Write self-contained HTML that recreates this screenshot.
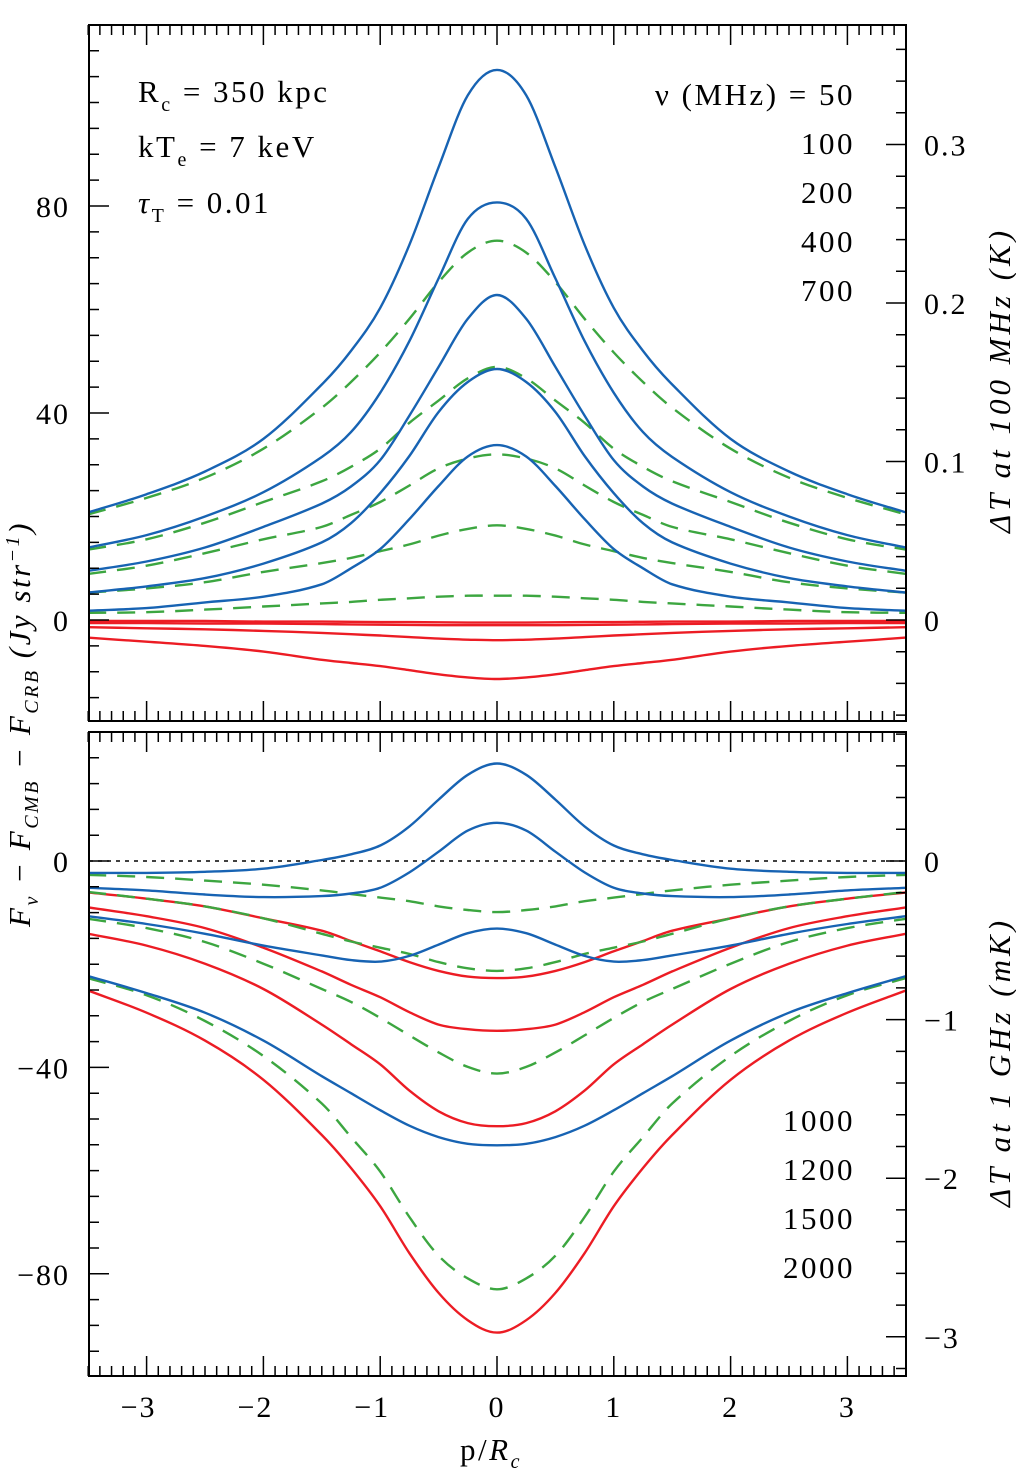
<!DOCTYPE html>
<html><head><meta charset="utf-8">
<style>
html,body{margin:0;padding:0;background:#fff;}
svg{display:block;font-family:"Liberation Serif","DejaVu Serif",serif;}
</style></head>
<body>
<svg id="chart" width="1016" height="1476" viewBox="0 0 1016 1476" xmlns="http://www.w3.org/2000/svg"></svg>
<script>
// ---- data (half profiles at p/Rc = -3.5 ... 0, mirrored) ----
const halfX = [-3.5,-3,-2.5,-2,-1.5,-1.25,-1,-0.75,-0.5,-0.25,0];
// top panel (50-700 MHz)
const topBlue = [
 [20.8,24.3,28.7,35.0,45.5,52.0,60.3,72.5,87.5,101.4,106.3],
 [14.0,16.4,20.0,24.7,31.5,36.3,43.9,53.9,66.0,77.5,80.7],
 [9.5,11.3,14.0,18.0,22.5,25.8,30.9,39.5,48.9,58.2,62.8],
 [5.3,6.5,8.1,10.9,15.0,18.7,24.5,31.7,40.2,46.0,48.5],
 [1.8,2.3,3.4,4.5,6.9,10.0,13.7,19.5,25.9,31.6,33.8]
];
const topGreen = [
 [20.4,23.6,27.5,33.1,41.0,46.0,51.7,58.2,65.3,71.0,73.3],
 [13.6,15.6,18.8,22.8,26.8,29.6,33.1,38.1,42.4,46.7,48.9],
 [8.9,10.5,12.9,15.6,18.0,20.3,22.8,26.0,29.3,31.2,32.0],
 [5.3,6.1,7.3,9.3,11.0,12.0,13.3,14.6,16.3,17.6,18.3],
 [1.4,1.5,2.0,2.6,3.2,3.5,3.9,4.2,4.5,4.7,4.7]
];
const topRed = [
 [-0.2,-0.2,-0.2,-0.3,-0.3,-0.35,-0.4,-0.4,-0.45,-0.5,-0.5],
 [-0.6,-0.6,-0.7,-0.7,-0.8,-0.85,-0.9,-0.95,-1.0,-1.0,-1.0],
 [-1.4,-1.6,-1.8,-2.1,-2.5,-2.75,-3.0,-3.3,-3.6,-3.8,-3.9],
 [-3.4,-4.2,-5.0,-6.1,-7.7,-8.3,-8.9,-9.7,-10.5,-11.1,-11.4]
];
// bottom panel (1000-2000 MHz)
const botBlue = [
 [-2.3,-2.3,-2.1,-1.5,0.2,1.3,3.0,6.7,11.9,16.7,18.9],
 [-5.2,-5.7,-6.5,-7.0,-6.8,-6.3,-5.2,-2.2,1.8,5.9,7.4],
 [-10.7,-12.2,-14.1,-16.4,-18.3,-19.2,-19.5,-18.4,-16.2,-14.0,-13.1],
 [-22.3,-25.6,-29.4,-34.8,-41.7,-45.0,-48.3,-51.3,-53.5,-54.8,-55.1]
];
const botGreen = [
 [-2.7,-3.1,-3.8,-4.6,-5.7,-6.4,-7.1,-7.8,-8.8,-9.5,-9.9],
 [-6.0,-7.3,-8.8,-11.1,-14.1,-15.6,-16.8,-18.0,-19.6,-20.8,-21.3],
 [-11.2,-13.0,-15.7,-19.9,-24.8,-27.3,-30.4,-33.8,-37.1,-39.9,-41.2],
 [-22.7,-26.0,-31.0,-37.8,-47.0,-53.5,-60.2,-69.0,-76.5,-80.9,-83.0]
];
const botRed = [
 [-6.1,-7.3,-8.8,-11.1,-13.5,-15.5,-17.5,-19.6,-21.3,-22.4,-22.7],
 [-9.0,-10.7,-13.0,-16.8,-21.4,-24.0,-26.4,-29.3,-31.7,-32.6,-32.9],
 [-14.1,-16.4,-19.9,-24.8,-31.7,-35.5,-39.4,-44.5,-48.5,-50.8,-51.4],
 [-25.1,-29.4,-34.8,-42.4,-53.1,-59.5,-66.9,-76.0,-83.7,-89.0,-91.4]
];
const xTickLabels = [-3,-2,-1,0,1,2,3];
const topYTicks = [0,40,80];
const botYTicks = [0,-40,-80];
const topRightTicks = [0,0.1,0.2,0.3];
const botRightTicks = [0,-1,-2,-3];
const topFreqs = ["ν (MHz) = 50","100","200","400","700"];
const botFreqs = ["1000","1200","1500","2000"];

// ---- geometry ----
const X0=89, X1=906;
const P = {
 top:{y0:25,y1:721, zeroY:620, ppu:5.175, rppu:1585},
 bot:{y0:732,y1:1376, zeroY:861, ppu:5.16, rppu:158.6}
};
const xs = v => 497 + v*116.8;
const ys = (p,v) => P[p].zeroY - v*P[p].ppu;
const yr = (p,v) => P[p].zeroY - v*P[p].rppu;

const svg = document.getElementById('chart');
const NS = 'http://www.w3.org/2000/svg';
function mk(tag, attrs, parent){
  const e = document.createElementNS(NS, tag);
  for (const k in attrs) e.setAttribute(k, attrs[k]);
  (parent||svg).appendChild(e);
  return e;
}
function pathFor(p, half){
  const xv = halfX.concat(halfX.slice(0,-1).reverse().map(v=>-v));
  const yv = half.concat(half.slice(0,-1).reverse());
  const pts = xv.map((x,i)=>[xs(x), ys(p,yv[i])]);
  let d = `M${pts[0][0].toFixed(1)},${pts[0][1].toFixed(1)}`;
  for (let i=0;i<pts.length-1;i++){
    const p0=pts[Math.max(0,i-1)], p1=pts[i], p2=pts[i+1], p3=pts[Math.min(pts.length-1,i+2)];
    const t1=(p2[0]-p0[0]), t2=(p3[0]-p1[0]);
    const h=p2[0]-p1[0];
    const m1=(p2[1]-p0[1])/t1, m2=(p3[1]-p1[1])/t2;
    const c1=[p1[0]+h/3, p1[1]+m1*h/3];
    const c2=[p2[0]-h/3, p2[1]-m2*h/3];
    d += ` C${c1[0].toFixed(1)},${c1[1].toFixed(1)} ${c2[0].toFixed(1)},${c2[1].toFixed(1)} ${p2[0].toFixed(1)},${p2[1].toFixed(1)}`;
  }
  return d;
}
const BLUE='#1763b3', GREEN='#3ca640', RED='#ec1c24';

function panel(p){
  const g = mk('g',{});
  
  
  const cp = mk('clipPath',{id:'clip-'+p}, g);
  mk('rect',{x:X0,y:P[p].y0,width:X1-X0,height:P[p].y1-P[p].y0}, cp);
  const lines = mk('g',{'clip-path':`url(#clip-${p})`}, g);
  if (p==='bot'){
    const z = mk('line',{x1:X0,x2:X1,y1:ys(p,0),y2:ys(p,0),stroke:'#000','stroke-width':1.5,'stroke-dasharray':'4,5'}, lines);
    
    
  }
  const sets = p==='top' ? [[topRed,RED,null,'red'],[topGreen,GREEN,'18,11','green'],[topBlue,BLUE,null,'blue']]
                         : [[botRed,RED,null,'red'],[botGreen,GREEN,'18,11','green'],[botBlue,BLUE,null,'blue']];
  sets.forEach(([arr,col,dash,nm])=>{
    arr.forEach((half,i)=>{
      const a = {d:pathFor(p,half),fill:'none',stroke:col,'stroke-width':2.4,'stroke-linejoin':'round'};
      if (dash) a['stroke-dasharray']=dash;
      const e = mk('path',a,lines);
      
      
    });
  });
  const f = mk('rect',{x:X0,y:P[p].y0,width:X1-X0,height:P[p].y1-P[p].y0,fill:'none',stroke:'#000','stroke-width':2}, g);
  
  
  let td='';
  for (let k=-35;k<=35;k++){
    const x=xs(k/10); const L = (k%10===0)?20:10;
    td += `M${x},${P[p].y0}v${L}M${x},${P[p].y1}v${-L}`;
  }
  for (let v=-100; v<=115; v+=5){
    const y=ys(p,v); if (y<P[p].y0+1||y>P[p].y1-1) continue;
    const L = (v%40===0)?20:10;
    td += `M${X0},${y}h${L}`;
  }
  const step = p==='top'?0.02:0.2;
  for (let k=-20;k<=20;k++){
    const v=k*step; const y=yr(p,v); if (y<P[p].y0+1||y>P[p].y1-1) continue;
    td += `M${X1},${y}h${(k%5===0)?-20:-10}`;
  }
  const t = mk('path',{d:td,stroke:'#000','stroke-width':1.5,fill:'none'}, g);
  
  
  (p==='top'?topYTicks:botYTicks).forEach(v=>{
    const e = mk('text',{x:70,y:ys(p,v)+11,'font-size':30,'letter-spacing':2,'text-anchor':'end'}, g);
    e.textContent = v<0 ? '−'+(-v) : String(v);
    
    
  });
  (p==='top'?topRightTicks:botRightTicks).forEach(v=>{
    const e = mk('text',{x:924,y:yr(p,v)+11,'font-size':30,'letter-spacing':2}, g);
    e.textContent = v<0 ? '−'+(-v) : String(v);
    
    
  });
}
panel('top'); panel('bot');

xTickLabels.forEach(v=>{
  const e = mk('text',{x:xs(v)-(v<0?8:0),y:1417,'font-size':30,'letter-spacing':2,'text-anchor':'middle'});
  e.textContent = v<0 ? '−'+(-v) : String(v);
  
  
});
topFreqs.forEach((s,i)=>{
  const e = mk('text',{x:855,y:105+i*49,'font-size':31,'letter-spacing':2.5,'text-anchor':'end'});
  e.textContent = s;
  
  
});
botFreqs.forEach((s,i)=>{
  const e = mk('text',{x:855,y:1131+i*49,'font-size':31,'letter-spacing':2.5,'text-anchor':'end'});
  e.textContent = s;
  
  
});
</script>
<svg style="position:absolute;left:0;top:0" width="1016" height="1476">
  <g font-family="Liberation Serif, DejaVu Serif, serif" font-size="31" fill="#000" letter-spacing="2.5">
    <text x="138" y="102">R<tspan font-size="20" dy="9">c</tspan><tspan dy="-9"> = 350 kpc</tspan></text>
    <text x="138" y="157">kT<tspan font-size="20" dy="9">e</tspan><tspan dy="-9"> = 7  keV</tspan></text>
    <text x="138" y="213"><tspan font-style="italic">τ</tspan><tspan font-size="20" dy="9">T</tspan><tspan dy="-9"> = 0.01</tspan></text>
    <text x="460" y="1460">p/<tspan font-style="italic">R</tspan><tspan font-size="20" dy="8" font-style="italic">c</tspan></text>
    <text transform="translate(30,724) rotate(-90)" text-anchor="middle" font-style="italic">F<tspan font-size="20" dy="8">ν</tspan><tspan dy="-8"> − F</tspan><tspan font-size="20" dy="8">CMB</tspan><tspan dy="-8"> − F</tspan><tspan font-size="20" dy="8">CRB</tspan><tspan dy="-8"> (Jy str</tspan><tspan font-size="20" dy="-11">−1</tspan><tspan dy="11">)</tspan></text>
    <text transform="translate(1010,380) rotate(-90)" text-anchor="middle" font-style="italic" letter-spacing="4">ΔT at 100 MHz (K)</text>
    <text transform="translate(1010,1062) rotate(-90)" text-anchor="middle" font-style="italic" letter-spacing="4">ΔT at 1 GHz (mK)</text>
  </g>
</svg>
</body></html>
